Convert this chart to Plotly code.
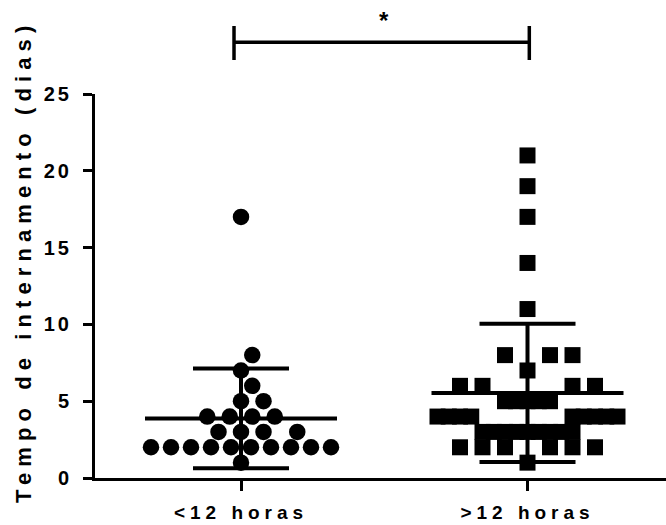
import numpy as np
import plotly.graph_objects as go

# ---------------- data ----------------
categories = ["<12 horas", ">12 horas"]
days_lt12 = [17, 8, 7, 6, 5, 5, 4, 4, 4, 4, 3, 3, 3, 3,
             2, 2, 2, 2, 2, 2, 2, 2, 2, 2, 1]
days_gt12 = [21, 19, 17, 14, 11, 8, 8, 8, 7, 6, 6, 6, 6,
             5, 5, 5, 5, 5,
             4, 4, 4, 4, 4, 4, 4, 4, 4,
             3, 3, 3, 3, 3, 3, 3, 3, 3,
             2, 2, 2, 2, 2, 2, 1]
y_ticks = [0, 5, 10, 15, 20, 25]
y_title = "Tempo de internamento (dias)"
significance = "*"

# ---------------- layout constants ----------------
FIG_W, FIG_H = 666, 525
M_L, M_R, M_T, M_B = 95, 0, 94, 47
PLOT_W = FIG_W - M_L - M_R
PLOT_H = FIG_H - M_T - M_B
Y_RANGE = [0, 25]
X_RANGE = [-0.5096, -0.5096 + PLOT_W / 286.5]
PPX = PLOT_W / (X_RANGE[1] - X_RANGE[0])
PPY = PLOT_H / (Y_RANGE[1] - Y_RANGE[0])

FONT = "Liberation Sans, Arial, sans-serif"


def spaced(text, ls):
    return "<span style='letter-spacing:%spx'>%s</span>" % (
        ls, text.replace("<", "&lt;").replace(">", "&gt;"))


def swarm(values, marker, shape, spacing=22.5, half_width=90.0):
    """Deterministic row-wise beeswarm, returns offsets in data units."""
    vals = np.asarray(values, dtype=float)
    offs = np.zeros(len(vals))
    placed = []
    compact = {}

    def hit(x, y):
        for qx, qy in placed:
            dx, dy = abs(x - qx), abs(y - qy)
            if shape == "circle":
                if dx * dx + dy * dy < marker * marker - 1e-6:
                    return True
            else:
                if dx < marker - 1e-6 and dy < marker - 1e-6:
                    return True
        return False

    def free(lay, y):
        return not any(hit(x, y) for x in lay)

    def greedy(y, k, sp, step):
        n = int(half_width // step + 1e-9)
        cands = sorted([i * step for i in range(-n, n + 1)], key=lambda c: (abs(c), -c))
        ch = []
        for c in cands:
            if not hit(c, y) and all(abs(c - q) >= sp - 1e-6 for q in ch):
                ch.append(c)
                if len(ch) == k:
                    return np.array(sorted(ch))
        return None

    prev_v = None
    for v in np.unique(vals):
        idx = np.where(vals == v)[0]
        k = len(idx)
        y = v * PPY
        sp = spacing if k == 1 else min(spacing, 2 * half_width / (k - 1))
        base = (np.arange(k) - (k - 1) / 2) * sp
        h = sp / 2
        small = (np.arange(k) - (k - 1) / 2) * h
        chosen, is_compact = None, False
        for lay in (base, base + h, base - h):
            if np.all(np.abs(lay) <= half_width + 1e-6) and free(lay, y):
                chosen = lay
                break
        if chosen is None:
            chosen = greedy(y, k, sp, h)
        if chosen is None and free(small, y):
            chosen, is_compact = small, True
        if chosen is None:
            chosen = greedy(y, k, h, h / 2)
        if chosen is None:
            adjacent_compact = (prev_v is not None and (v - prev_v) * PPY < marker
                                and compact.get(prev_v, False))
            if adjacent_compact:
                slots = []
                j = 0
                while len(slots) < k:
                    slots += [half_width - j * h, -(half_width - j * h)]
                    j += 1
                chosen = np.array(sorted(slots[:k]))
            else:
                chosen, is_compact = small, True
        compact[v] = is_compact
        for x in chosen:
            placed.append((x, y))
        offs[idx] = chosen
        prev_v = v
    return offs / PPX


fig = go.Figure()

groups = [(days_lt12, "circle", 16.5), (days_gt12, "square", 16)]
for i, (vals, sym, size) in enumerate(groups):
    xo = swarm(vals, size, sym)
    fig.add_trace(go.Scatter(
        x=i + xo, y=vals, mode="markers", cliponaxis=False,
        marker=dict(symbol=sym, size=size, color="black", line=dict(width=0)),
        showlegend=False, hoverinfo="y"))

means = [float(np.mean(v)) for v in (days_lt12, days_gt12)]
sds = [float(np.std(v, ddof=1)) for v in (days_lt12, days_gt12)]
fig.add_trace(go.Scatter(
    x=[0, 1], y=means, mode="markers", cliponaxis=False,
    marker=dict(symbol="line-ew", size=96 / 0.7, color="black",
                line=dict(width=4, color="black")),
    error_y=dict(type="data", array=sds, symmetric=True, color="black",
                 thickness=4, width=48),
    showlegend=False, hoverinfo="skip"))


def xpaper(xd):
    return (xd - X_RANGE[0]) / (X_RANGE[1] - X_RANGE[0])


def ypaper(py):
    return (FIG_H - M_B - py) / PLOT_H


# significance bracket
bl, br = xpaper(-0.0244), xpaper(1.0063)
yh, yt, yb = ypaper(42.3), ypaper(26), ypaper(60)
line_style = dict(color="black", width=3.5)
fig.add_shape(type="line", xref="paper", yref="paper", x0=bl, x1=br, y0=yh, y1=yh, line=line_style)
fig.add_shape(type="line", xref="paper", yref="paper", x0=bl, x1=bl, y0=yb, y1=yt, line=line_style)
fig.add_shape(type="line", xref="paper", yref="paper", x0=br, x1=br, y0=yb, y1=yt, line=line_style)
fig.add_annotation(xref="paper", yref="paper", x=(384 - M_L) / PLOT_W, y=ypaper(21),
                   text=significance, showarrow=False,
                   font=dict(family=FONT, size=24, color="black", weight="bold"),
                   xanchor="center", yanchor="middle")

# y title
fig.add_annotation(xref="paper", yref="paper", x=(23 - M_L) / PLOT_W, y=ypaper(262),
                   text=spaced(y_title, 6.1), textangle=-90, showarrow=False,
                   font=dict(family=FONT, size=22, color="black", weight="bold"),
                   xanchor="center", yanchor="middle")

fig.update_layout(
    template="none",
    width=FIG_W, height=FIG_H,
    margin=dict(l=M_L, r=M_R, t=M_T, b=M_B, pad=0, autoexpand=False),
    paper_bgcolor="white", plot_bgcolor="white",
    font=dict(family=FONT, color="black"),
    xaxis=dict(range=X_RANGE, tickmode="array", tickvals=[0, 1],
               ticktext=[spaced(c, 5) for c in categories],
               showline=True, linewidth=3, linecolor="black", automargin=False,
               ticks="outside", ticklen=10, tickwidth=3, tickcolor="black",
               showgrid=False, zeroline=False, ticklabelstandoff=5,
               tickfont=dict(family=FONT, size=19, color="black", weight="bold")),
    yaxis=dict(range=Y_RANGE, tickmode="array", tickvals=y_ticks,
               ticktext=[spaced(str(t), 3) for t in y_ticks],
               showline=True, linewidth=3, linecolor="black", automargin=False,
               ticks="outside", ticklen=9, tickwidth=3, tickcolor="black",
               showgrid=False, zeroline=False, ticklabelstandoff=7,
               tickfont=dict(family=FONT, size=20, color="black", weight="bold")),
)

fig.write_html("out.html", config={"displayModeBar": False},
               post_script="document.body.style.margin='0';document.body.style.overflow='hidden';")
